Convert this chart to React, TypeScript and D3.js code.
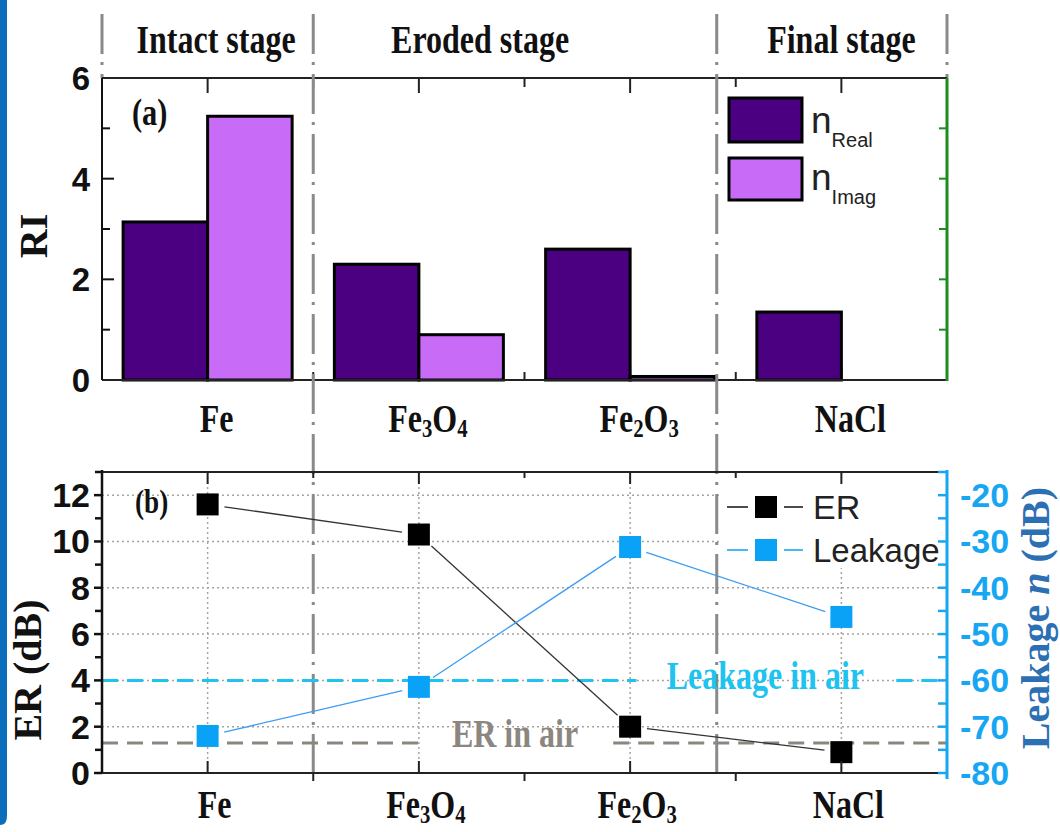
import React from "react";
import * as d3 from "d3";

// categories and values
const materials = ["Fe", "Fe3O4", "Fe2O3", "NaCl"];
const nReal = [3.14, 2.3, 2.6, 1.35];
const nImag = [5.24, 0.9, 0.07, 0];
const erValues = [11.6, 10.3, 2.0, 0.9];
const leakageValues = [-72, -61.4, -31.2, -46.3];

const stages = ["Intact stage", "Eroded stage", "Final stage"];
const stageCenters = [1.04, 2.29, 4.0];
const stageDividers = [1.5, 3.41];

const riTicks = [0, 1, 2, 3, 4, 5, 6];
const erTicks = [0, 1, 2, 3, 4, 5, 6, 7, 8, 9, 10, 11, 12, 13];
const leakTicks = [-80, -75, -70, -65, -60, -55, -50, -45, -40, -35, -30, -25, -20, -15];

const erInAir = 1.3;
const leakageInAir = -60;

const L = 102, R = 947;
const A_TOP = 78, A_BOT = 380;
const B_TOP = 472, B_BOT = 773;

const serif = "'Liberation Serif', 'Times New Roman', serif";
const sans = "'Liberation Sans', Arial, sans-serif";

const C_REAL = "#4b0082";
const C_IMAG = "#c86cf7";
const C_LEAK = "#0aa2f7";
const C_LEAK_AXIS = "#17a6f2";
const C_AIR_LEAK = "#1ec3ef";
const C_AIR_ER = "#8b8780";
const C_GRID = "#a8a49c";
const C_DIV = "#8a8a8a";
const DASHDOT = "40 8 3 9";

function Formula({ text, x, y, size = 40 }: { text: string; x: number; y: number; size?: number }) {
  // split chemical formula into letters and subscript digits
  const parts = text.match(/[A-Za-z]+|\d+/g) || [];
  let shifted = false;
  return (
    <text transform={`translate(${x},${y}) scale(0.8,1)`} fontFamily={serif} fontWeight="bold"
      fontSize={size} fill="#111" textAnchor="middle">
      {parts.map((p, i) => {
        const isNum = /\d/.test(p);
        let dy = 0;
        if (isNum && !shifted) { dy = 5; shifted = true; }
        else if (!isNum && shifted) { dy = -5; shifted = false; }
        return <tspan key={i} dy={dy} fontSize={isNum ? size * 0.65 : size}>{p}</tspan>;
      })}
    </text>
  );
}

function SerifText(props: { x: number; y: number; fill?: string; size?: number; anchor?: string; children: any }) {
  const { x, y, fill = "#111", size = 40, anchor = "middle", children } = props;
  return (
    <text transform={`translate(${x},${y}) scale(0.8,1)`} fontFamily={serif} fontWeight="bold"
      fontSize={size} fill={fill} textAnchor={anchor}>{children}</text>
  );
}

function gapSegments(pts: [number, number][], gap: number) {
  const segs: [number, number, number, number][] = [];
  for (let i = 0; i < pts.length - 1; i++) {
    const [x0, y0] = pts[i], [x1, y1] = pts[i + 1];
    const len = Math.hypot(x1 - x0, y1 - y0);
    const ux = (x1 - x0) / len, uy = (y1 - y0) / len;
    segs.push([x0 + ux * gap, y0 + uy * gap, x1 - ux * gap, y1 - uy * gap]);
  }
  return segs;
}

export default function App() {
  const x = d3.scaleLinear().domain([0.5, 4.5]).range([L, R]);
  const yRI = d3.scaleLinear().domain([0, 6]).range([A_BOT, A_TOP]);
  const yER = d3.scaleLinear().domain([0, 13]).range([B_BOT, B_TOP]);
  const yLk = d3.scaleLinear().domain([-80, -15]).range([B_BOT, B_TOP]);
  const barW = 0.4;
  const cats = materials.map((_, i) => i + 1);
  const halfCats = [1.5, 2.5, 3.5];
  const ms = 22;

  const erPts: [number, number][] = erValues.map((v, i) => [x(i + 1), yER(v)]);
  const lkPts: [number, number][] = leakageValues.map((v, i) => [x(i + 1), yLk(v)]);

  return (
    <svg width={1060} height={832} style={{ position: "absolute", left: 0, top: 0, background: "#fff" }}>
      <rect x={0} y={0} width={1060} height={832} fill="#fff" />
      {/* left border strip */}
      <path d="M0,0 H7 V816 Q7,825 0,825 Z" fill="#0a6ebd" />

      {/* ================= panel (a) ================= */}
      {stages.map((s, i) => (
        <SerifText key={s} x={x(stageCenters[i])} y={53}>{s}</SerifText>
      ))}
      {[0.5, 4.5].map(v => (
        <line key={v} x1={x(v)} x2={x(v)} y1={14} y2={A_TOP} stroke={C_DIV} strokeWidth={3} strokeDasharray={DASHDOT} />
      ))}

      {/* ticks */}
      {riTicks.map(t => (
        <g key={t}>
          <line x1={L} x2={L + (t % 2 === 0 ? 12 : 8)} y1={yRI(t)} y2={yRI(t)} stroke="#111" strokeWidth={2} />
          <line x1={R} x2={R - 8} y1={yRI(t)} y2={yRI(t)} stroke="#1e8c1e" strokeWidth={2} />
        </g>
      ))}
      {riTicks.filter(t => t % 2 === 0).map(t => (
        <text key={t} x={90} y={yRI(t) + 12} textAnchor="end" fontFamily={sans} fontWeight="bold" fontSize={33} fill="#111">{t}</text>
      ))}
      {cats.map(c => (
        <g key={c}>
          <line x1={x(c)} x2={x(c)} y1={A_TOP} y2={A_TOP + 15} stroke="#222" strokeWidth={2} />
          <line x1={x(c)} x2={x(c)} y1={A_BOT} y2={A_BOT - 14} stroke="#222" strokeWidth={2} />
        </g>
      ))}
      {halfCats.map(c => (
        <g key={c}>
          <line x1={x(c)} x2={x(c)} y1={A_TOP} y2={A_TOP + 9} stroke="#222" strokeWidth={2} />
          <line x1={x(c)} x2={x(c)} y1={A_BOT} y2={A_BOT - 8} stroke="#222" strokeWidth={2} />
        </g>
      ))}

      {/* bars */}
      {materials.map((m, i) => (
        <g key={m}>
          {nReal[i] > 0 && (
            <rect x={x(i + 1 - barW)} y={yRI(nReal[i])} width={x(i + 1) - x(i + 1 - barW)}
              height={yRI(0) - yRI(nReal[i])} fill={C_REAL} stroke="#000" strokeWidth={3} />
          )}
          {nImag[i] > 0 && (
            <rect x={x(i + 1)} y={yRI(nImag[i])} width={x(i + 1 + barW) - x(i + 1)}
              height={yRI(0) - yRI(nImag[i])} fill={C_IMAG} stroke="#000" strokeWidth={3} />
          )}
        </g>
      ))}

      {/* axes frame */}
      <line x1={L} x2={R} y1={A_TOP} y2={A_TOP} stroke="#222" strokeWidth={2} />
      <line x1={L} x2={R} y1={A_BOT} y2={A_BOT} stroke="#222" strokeWidth={2} />
      <line x1={L} x2={L} y1={A_TOP} y2={A_BOT} stroke="#111" strokeWidth={2} />
      <line x1={R} x2={R} y1={A_TOP} y2={A_BOT + 1} stroke="#1e8c1e" strokeWidth={3} />

      <text transform={`translate(47,236) rotate(-90)`} textAnchor="middle" fontFamily={serif} fontWeight="bold" fontSize={40} fill="#111">RI</text>
      <SerifText x={132} y={125} anchor="start" size={38}>(a)</SerifText>

      {/* legend (a) */}
      <rect x={729} y={98} width={73} height={44} fill={C_REAL} stroke="#000" strokeWidth={3} />
      <rect x={729} y={158} width={73} height={42} fill={C_IMAG} stroke="#000" strokeWidth={3} />
      <text x={811} y={133} fontFamily={sans} fontSize={37} fill="#222">n<tspan fontSize={20} dy={14}>Real</tspan></text>
      <text x={811} y={190} fontFamily={sans} fontSize={37} fill="#222">n<tspan fontSize={20} dy={14}>Imag</tspan></text>

      {materials.map((m, i) => (
        <Formula key={m} text={m} x={x(i + 1) + 9} y={432} />
      ))}

      {/* ================= panel (b) ================= */}
      {/* grid */}
      {erTicks.filter(t => t > 0 && t % 2 === 0).map(t => (
        <line key={t} x1={L} x2={R} y1={yER(t)} y2={yER(t)} stroke={C_GRID} strokeWidth={1.5} strokeDasharray="2 3" />
      ))}
      {cats.map(c => (
        <line key={c} x1={x(c)} x2={x(c)} y1={B_TOP} y2={B_BOT} stroke={C_GRID} strokeWidth={1.5} strokeDasharray="2 3" />
      ))}
      {/* legend background */}
      <rect x={722} y={478} width={220} height={90} fill="#fff" />

      {/* stage dividers */}
      {stageDividers.map(v => (
        <line key={v} x1={x(v)} x2={x(v)} y1={14} y2={782} stroke={C_DIV} strokeWidth={3} strokeDasharray={DASHDOT} />
      ))}

      {/* reference lines */}
      <line x1={L} x2={x(2.0)} y1={yER(erInAir)} y2={yER(erInAir)} stroke={C_AIR_ER} strokeWidth={3} strokeDasharray="16 9" />
      <line x1={x(2.92)} x2={R} y1={yER(erInAir)} y2={yER(erInAir)} stroke={C_AIR_ER} strokeWidth={3} strokeDasharray="16 9" />
      <SerifText x={x(2.455)} y={yER(erInAir) + 4} fill={C_AIR_ER}>ER in air</SerifText>

      <line x1={L} x2={x(3.03)} y1={yLk(leakageInAir)} y2={yLk(leakageInAir)} stroke={C_AIR_LEAK} strokeWidth={3} strokeDasharray="16 9" />
      <line x1={x(4.26)} x2={R} y1={yLk(leakageInAir)} y2={yLk(leakageInAir)} stroke={C_AIR_LEAK} strokeWidth={3} strokeDasharray="16 9" />
      <SerifText x={x(3.64)} y={yLk(leakageInAir) + 9} fill={C_AIR_LEAK}>Leakage in air</SerifText>

      {/* data lines */}
      {gapSegments(erPts, 17).map((s, i) => (
        <line key={"e" + i} x1={s[0]} y1={s[1]} x2={s[2]} y2={s[3]} stroke="#333" strokeWidth={1.3} />
      ))}
      {gapSegments(lkPts, 17).map((s, i) => (
        <line key={"l" + i} x1={s[0]} y1={s[1]} x2={s[2]} y2={s[3]} stroke="#3d9cf2" strokeWidth={1.3} />
      ))}
      {erPts.map((p, i) => (
        <rect key={"em" + i} x={p[0] - ms / 2} y={p[1] - ms / 2} width={ms} height={ms} fill="#000" />
      ))}
      {lkPts.map((p, i) => (
        <rect key={"lm" + i} x={p[0] - ms / 2} y={p[1] - ms / 2} width={ms} height={ms} fill={C_LEAK} />
      ))}

      {/* axes */}
      <line x1={L} x2={R} y1={B_TOP} y2={B_TOP} stroke="#222" strokeWidth={2} />
      <line x1={L} x2={R} y1={B_BOT} y2={B_BOT} stroke="#222" strokeWidth={2} />
      <line x1={L} x2={L} y1={B_TOP - 2} y2={B_BOT} stroke="#111" strokeWidth={2.5} />
      <line x1={R} x2={R} y1={B_TOP - 2} y2={B_BOT + 6} stroke={C_LEAK_AXIS} strokeWidth={3} />
      {erTicks.map(t => (
        <line key={t} x1={L} x2={L - (t % 2 === 0 ? 8 : 7)} y1={yER(t)} y2={yER(t)} stroke="#111" strokeWidth={2.5} />
      ))}
      {erTicks.filter(t => t % 2 === 0).map(t => (
        <text key={t} x={90} y={yER(t) + 12} textAnchor="end" fontFamily={sans} fontWeight="bold" fontSize={34} fill="#111">{t}</text>
      ))}
      {leakTicks.map(t => (
        <line key={t} x1={R} x2={R - 9} y1={yLk(t)} y2={yLk(t)} stroke={C_LEAK_AXIS} strokeWidth={2.5} />
      ))}
      {leakTicks.filter(t => t % 10 === 0).map(t => (
        <text key={t} x={960} y={yLk(t) + 12} textAnchor="start" fontFamily={sans} fontWeight="bold" fontSize={34} fill={C_LEAK_AXIS}>{t}</text>
      ))}
      {cats.map(c => (
        <g key={c}>
          <line x1={x(c)} x2={x(c)} y1={B_TOP} y2={B_TOP + 12} stroke="#222" strokeWidth={2} />
          <line x1={x(c)} x2={x(c)} y1={B_BOT} y2={B_BOT - 12} stroke="#222" strokeWidth={2} />
        </g>
      ))}
      {halfCats.map(c => (
        <g key={c}>
          <line x1={x(c)} x2={x(c)} y1={B_TOP} y2={B_TOP + 6} stroke="#222" strokeWidth={2} />
          <line x1={x(c)} x2={x(c)} y1={B_BOT} y2={B_BOT + 8} stroke="#222" strokeWidth={2} />
        </g>
      ))}

      <text transform={`translate(41,670) rotate(-90)`} textAnchor="middle" fontFamily={serif} fontWeight="bold" fontSize={40} fill="#111">ER (dB)</text>
      <text transform={`translate(1049,618) rotate(-90)`} textAnchor="middle" fontFamily={serif} fontWeight="bold" fontSize={40} fill="#2d6fb3">
        Leakage <tspan fontStyle="italic">n</tspan> (dB)
      </text>
      <SerifText x={135} y={513} anchor="start" size={34}>(b)</SerifText>

      {/* legend (b) */}
      <line x1={727} x2={748} y1={507} y2={507} stroke="#111" strokeWidth={1.5} />
      <line x1={784} x2={803} y1={507} y2={507} stroke="#111" strokeWidth={1.5} />
      <rect x={766 - ms / 2} y={507 - ms / 2} width={ms} height={ms} fill="#000" />
      <text x={813} y={519} fontFamily={sans} fontSize={34} fill="#222">ER</text>
      <line x1={727} x2={748} y1={550} y2={550} stroke={C_LEAK} strokeWidth={1.5} />
      <line x1={784} x2={803} y1={550} y2={550} stroke={C_LEAK} strokeWidth={1.5} />
      <rect x={766 - ms / 2} y={550 - ms / 2} width={ms} height={ms} fill={C_LEAK} />
      <text x={813} y={562} fontFamily={sans} fontSize={33} fill="#222">Leakage</text>

      {materials.map((m, i) => (
        <Formula key={"b" + m} text={m} x={x(i + 1) + 7} y={818} />
      ))}
    </svg>
  );
}
